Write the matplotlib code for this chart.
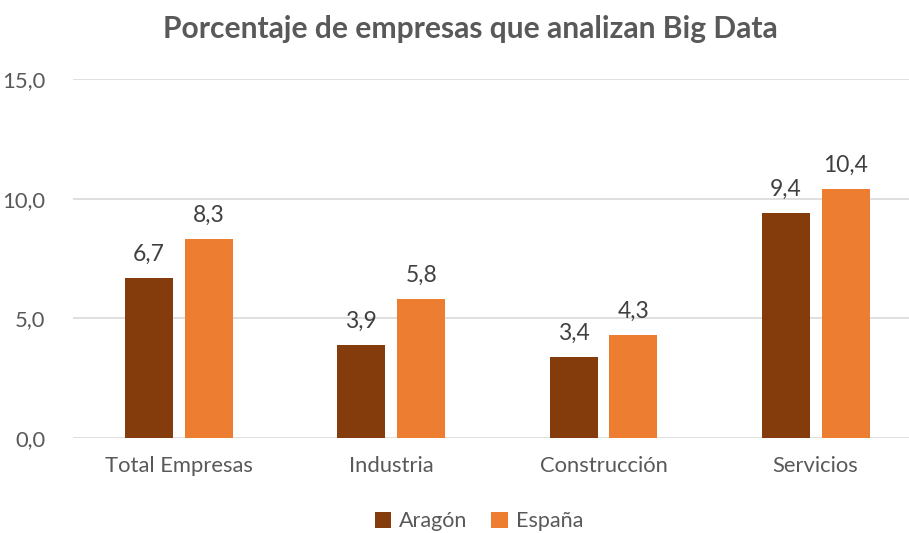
import matplotlib.pyplot as plt
import numpy as np

categorias = ['Total Empresas', 'Industria', 'Construcción', 'Servicios']
aragon = [6.7, 3.9, 3.4, 9.4]
espana = [8.3, 5.8, 4.3, 10.4]
series = ['Aragón', 'España']
yticks = [0, 5, 10, 15]

plt.rcParams['font.family'] = ['Lato', 'DejaVu Sans']

fig = plt.figure(figsize=(9.09, 5.33), dpi=100)
ax = fig.add_axes([73/909, 95/533, 836/909, 359/533])

x = np.arange(len(categorias))
w = 0.226
off = 0.141
b1 = ax.bar(x - off, aragon, w, color='#843C0C', label=series[0], zorder=3)
b2 = ax.bar(x + off, espana, w, color='#ED7D31', label=series[1], zorder=3)

for bars, vals in ((b1, aragon), (b2, espana)):
    for r, v in zip(bars, vals):
        ax.annotate(('%.1f' % v).replace('.', ','), (r.get_x() + r.get_width()/2, v),
                    xytext=(0, 9.5), textcoords='offset points', ha='center', va='bottom',
                    fontsize=16.5, color='#404040')

ax.set_xlim(-0.5, 3.44)
ax.set_ylim(0, 15)
ax.set_yticks(yticks)
ax.set_yticklabels([('%.1f' % t).replace('.', ',') for t in yticks])
ax.set_xticks(x)
ax.set_xticklabels(categorias)
ax.tick_params(axis='both', length=0, labelsize=15.8, labelcolor='#595959')
ax.tick_params(axis='y', pad=20)
ax.tick_params(axis='x', pad=13)
ax.yaxis.grid(True, color='#D9D9D9', linewidth=1.2, zorder=0)
for s in ax.spines.values():
    s.set_visible(False)

fig.suptitle('Porcentaje de empresas que analizan Big Data', x=0.518, y=0.972,
             fontsize=21.6, fontweight='bold', color='#595959')

fig.legend(loc='center', bbox_to_anchor=(0.527, 0.022), ncol=2, frameon=False,
           fontsize=15.5, labelcolor='#595959', handlelength=0.75, handleheight=0.75,
           handletextpad=0.4, columnspacing=1.1)

fig.savefig('out.png', dpi=100)
